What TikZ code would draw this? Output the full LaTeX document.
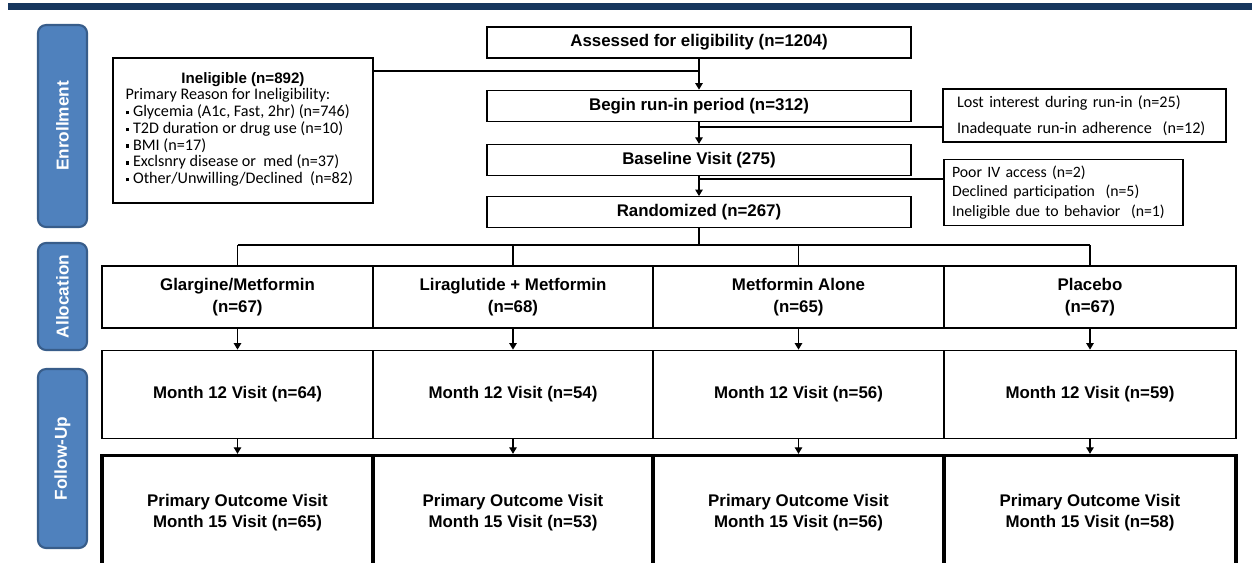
\documentclass[tikz,border=0pt]{standalone}
\usepackage{fontspec}
\setmainfont{Liberation Sans}
\newfontfamily\calfont{Carlito}
\usetikzlibrary{positioning, arrows.meta}
\definecolor{navybar}{RGB}{23,55,94}
\definecolor{phasefill}{RGB}{79,129,189}
\definecolor{phaseedge}{RGB}{56,93,138}
\newcommand{\sqbullet}{\raisebox{0.3ex}{\rule{0.22em}{0.22em}}\hspace{0.25em}}

\begin{document}
\begin{tikzpicture}[x=0.02cm, y=-0.02cm, >={Triangle[length=0.13cm, width=0.15cm]},
    line width=0.7pt,
    box/.style={draw, line width=0.7pt, align=center, inner sep=1pt,
      font=\bfseries\fontsize{9.6}{12.2}\selectfont},
    stage/.style={box, minimum width=8.48cm, minimum height=0.62cm},
    outcome/.style={box, line width=1.8pt},
    phase/.style={draw=phaseedge, fill=phasefill, line width=1.2pt, rounded corners=0.16cm,
      rotate=90, minimum height=0.98cm, text=white, font=\bfseries\fontsize{9.8}{11}\selectfont},
    note/.style={draw, line width=0.7pt, align=left}]
  \useasboundingbox (0,0) rectangle (1252,562);
  \clip (0,0) rectangle (1252,562);
  % Title bar
  \fill[navybar] (8,3) rectangle (1252,10);
  % Phase labels
  \node[phase, minimum width=4.04cm] (enrol) at (62.5,126) {Enrollment};
  \node[phase, minimum width=2.14cm] (alloclab) at (62.5,296.5) {Allocation};
  \node[phase, minimum width=3.58cm] (follow) at (62.5,458.5) {Follow-Up};
  % Enrollment
  \node[stage] (assess) at (699,42.5) {Assessed for eligibility (n=1204)};
  \node[stage, below=0.62cm of assess] (runin) {Begin run-in period (n=312)};
  \node[stage, below=0.44cm of runin] (baseline) {Baseline Visit (275)};
  \node[stage, below=0.4cm of baseline] (random) {Randomized (n=267)};
  \node[note, align=center, minimum width=5.2cm, minimum height=2.9cm,
        font=\calfont\fontsize{9.2}{9.4}\selectfont] (inelig) at (243,130.5) {%
    {\normalfont\bfseries\fontsize{8.6}{9.4}\selectfont Ineligible (n=892)}\\
    \begin{tabular}{@{}l@{}}
      Primary Reason for Ineligibility:\\
      \sqbullet Glycemia (A1c, Fast, 2hr) (n=746)\\
      \sqbullet T2D duration or drug use (n=10)\\
      \sqbullet BMI (n=17)\\
      \sqbullet Exclsnry disease or~ med (n=37)\\
      \sqbullet Other/Unwilling/Declined~ (n=82)
    \end{tabular}\hspace*{0.15cm}};
  \node[note, text width=5.1cm, inner xsep=0.28cm, minimum height=1.06cm,
        font=\calfont\fontsize{9.2}{14.8}\selectfont] (lost) at (1084.5,115.5)
    {Lost interest during run-in (n=25)\\ Inadequate run-in adherence~ (n=12)};
  \node[note, text width=4.46cm, inner xsep=0.16cm, minimum height=1.22cm,
        font=\calfont\fontsize{9}{11.2}\selectfont] (poor) at (1063.5,192.5)
    {Poor IV access (n=2)\\ Declined participation~ (n=5)\\ \mbox{Ineligible due to behavior~ (n=1)}};
  % Allocation
  \node[box, minimum width=5.42cm, minimum height=1.24cm] (glar) at (237.5,297) {Glargine/Metformin\\(n=67)};
  \node[box, minimum width=5.6cm, minimum height=1.24cm] (lira) at (513,297) {Liraglutide + Metformin\\(n=68)};
  \node[box, minimum width=5.82cm, minimum height=1.24cm] (metf) at (798.5,297) {Metformin Alone\\(n=65)};
  \node[box, minimum width=5.84cm, minimum height=1.24cm] (plac) at (1090,297) {Placebo\\(n=67)};
  % Follow-up
  \node[box, minimum width=5.42cm, minimum height=1.76cm, below=0.42cm of glar] (glar12) {Month 12 Visit (n=64)};
  \node[box, minimum width=5.6cm, minimum height=1.76cm, below=0.42cm of lira] (lira12) {Month 12 Visit (n=54)};
  \node[box, minimum width=5.82cm, minimum height=1.76cm, below=0.42cm of metf] (metf12) {Month 12 Visit (n=56)};
  \node[box, minimum width=5.84cm, minimum height=1.76cm, below=0.42cm of plac] (plac12) {Month 12 Visit (n=59)};
  \node[outcome, minimum width=5.42cm, minimum height=2.28cm, below=0.3cm of glar12] (glar15) {Primary Outcome Visit\\Month 15 Visit (n=65)};
  \node[outcome, minimum width=5.6cm, minimum height=2.28cm, below=0.3cm of lira12] (lira15) {Primary Outcome Visit\\Month 15 Visit (n=53)};
  \node[outcome, minimum width=5.82cm, minimum height=2.28cm, below=0.3cm of metf12] (metf15) {Primary Outcome Visit\\Month 15 Visit (n=56)};
  \node[outcome, minimum width=5.84cm, minimum height=2.28cm, below=0.3cm of plac12] (plac15) {Primary Outcome Visit\\Month 15 Visit (n=58)};
  % Flow
  \coordinate (inelj) at (699,71);
  \coordinate (lostj) at (699,127);
  \coordinate (poorj) at (699,179);
  \coordinate (split) at (699,245);
  \draw[->] (assess) -- (runin);
  \draw (inelig.east |- inelj) -- (inelj);
  \draw[->] (runin) -- (baseline);
  \draw (lostj) -- (lostj -| lost.west);
  \draw[->] (baseline) -- (random);
  \draw (poorj) -- (poorj -| poor.west);
  \draw (random) -- (split);
  \draw (glar.north |- split) -- (plac.north |- split);
  \draw (glar.north |- split) -- (glar.north);
  \draw (lira.north |- split) -- (lira.north);
  \draw (metf.north |- split) -- (metf.north);
  \draw (plac.north |- split) -- (plac.north);
  \draw[->] (glar) -- (glar12);
  \draw[->] (lira) -- (lira12);
  \draw[->] (metf) -- (metf12);
  \draw[->] (plac) -- (plac12);
  \draw[->] (glar12) -- (glar15);
  \draw[->] (lira12) -- (lira15);
  \draw[->] (metf12) -- (metf15);
  \draw[->] (plac12) -- (plac15);
\end{tikzpicture}
\end{document}
